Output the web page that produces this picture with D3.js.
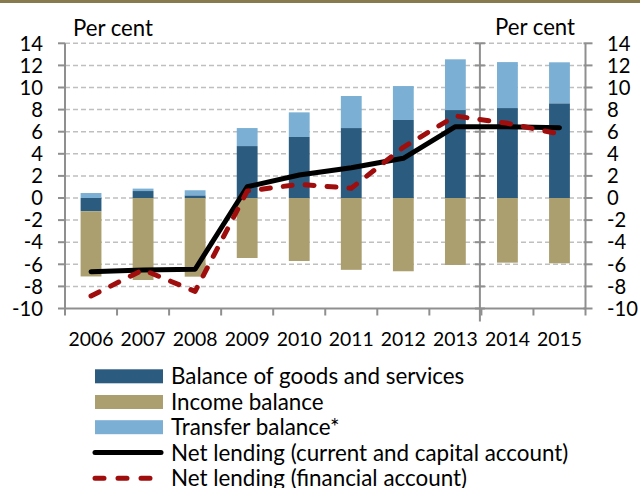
<!DOCTYPE html>
<html>
<head>
<meta charset="utf-8">
<script src="https://cdn.jsdelivr.net/npm/d3@7"></script>
<style>
  html, body { margin: 0; padding: 0; background: #fff; }
  svg { display: block; }
  text { font-family: Lato, "Open Sans", sans-serif; fill: #000; }
</style>
</head>
<body>
<svg id="chart" width="640" height="488"></svg>
<script>
// ---- Data (per cent) ----
const years = ["2006","2007","2008","2009","2010","2011","2012","2013","2014","2015"];
const goodsServices = [-1.2, 0.63, 0.24, 4.7, 5.52, 6.33, 7.06, 7.96, 8.14, 8.57];
const incomeBalance = [-5.9, -7.42, -7.12, -5.43, -5.7, -6.5, -6.63, -6.06, -5.85, -5.91];
const transferBalance = [0.45, 0.22, 0.46, 1.63, 2.23, 2.9, 3.07, 4.59, 4.16, 3.71];
const netLendingCurrent = [-6.67, -6.52, -6.45, 1.02, 2.08, 2.74, 3.59, 6.45, 6.45, 6.36];
const netLendingFinancial = [-8.87, -6.5, -8.45, 0.63, 1.24, 0.88, 4.59, 7.42, 6.76, 5.79];
const yTicks = [14, 12, 10, 8, 6, 4, 2, 0, -2, -4, -6, -8, -10];
const seriesNames = ["Balance of goods and services", "Income balance", "Transfer balance*",
  "Net lending (current and capital account)", "Net lending (financial account)"];
const unitLabel = "Per cent";

const colors = { goods: "#2b5b7f", income: "#ab9e6f", transfer: "#7bafd4", net: "#000000", fin: "#a00d0d" };

const svg = d3.select("#chart");

// top rule
svg.append("rect").attr("x", 0).attr("y", 0).attr("width", 640).attr("height", 3).attr("fill", "#877a4e");

const pLeft = 65, pRight = 585.5, pTop = 43.3, pBottom = 308.5;
const x = d3.scaleBand().domain(years).range([pLeft, pRight]).paddingInner(0.6).paddingOuter(0.3);
const y = d3.scaleLinear().domain([-10, 14]).range([pBottom, pTop]);
const step = x.step();
const boundary = i => pLeft + step * i; // category boundaries

// font fit helper
function fit(sel, target, base) {
  sel.style("font-size", base + "px");
  const w = sel.node().getComputedTextLength();
  const fs = base * target / w;
  sel.style("font-size", fs + "px");
  return fs;
}
const tmp = svg.append("text").text("2006");
const yearFs = fit(tmp, 45, 20);
tmp.text("-10");
const tickFs = fit(tmp, 31, 20);
tmp.text(unitLabel);
const unitFs = fit(tmp, 80, 20);
tmp.text(seriesNames[3]);
const legFs = fit(tmp, 397.6, 20);
tmp.remove();

// gridlines
svg.append("g").selectAll("line").data(yTicks.filter(v => v > -10)).join("line")
  .attr("x1", pLeft).attr("x2", pRight)
  .attr("y1", d => y(d)).attr("y2", d => y(d))
  .attr("stroke", "#bfbfbf").attr("stroke-width", 1.5).attr("stroke-dasharray", "5,3");

// stacked bars
const rows = years.map((yr, i) => ({ year: yr, goods: goodsServices[i], income: incomeBalance[i], transfer: transferBalance[i] }));
const stack = d3.stack().keys(["goods", "income", "transfer"]).offset(d3.stackOffsetDiverging);
const stacked = stack(rows);
svg.append("g").selectAll("g").data(stacked).join("g")
  .attr("fill", d => colors[d.key])
  .selectAll("rect").data(d => d).join("rect")
  .attr("x", d => x(d.data.year))
  .attr("width", x.bandwidth())
  .attr("y", d => y(Math.max(d[0], d[1])))
  .attr("height", d => Math.abs(y(d[0]) - y(d[1])));

// axes
const axisColor = "#8f8f8f";
const ax = svg.append("g").attr("stroke", axisColor).attr("stroke-width", 2);
ax.append("line").attr("x1", pLeft).attr("x2", pLeft).attr("y1", pTop).attr("y2", pBottom);
ax.append("line").attr("x1", pRight).attr("x2", pRight).attr("y1", pTop).attr("y2", pBottom);
ax.append("line").attr("x1", pLeft).attr("x2", pRight).attr("y1", pBottom).attr("y2", pBottom);
ax.selectAll(".lt").data(yTicks).join("line").attr("class", "lt")
  .attr("x1", pLeft - 7).attr("x2", pLeft).attr("y1", d => y(d)).attr("y2", d => y(d));
ax.selectAll(".rt").data(yTicks).join("line").attr("class", "rt")
  .attr("x1", pRight - 2).attr("x2", pRight + 7).attr("y1", d => y(d)).attr("y2", d => y(d));
ax.selectAll(".bt").data(d3.range(0, years.length + 1)).join("line").attr("class", "bt")
  .attr("x1", d => boundary(d)).attr("x2", d => boundary(d)).attr("y1", pBottom).attr("y2", pBottom + 7);
// forecast separator
const sepX = boundary(8) - 1.5;
ax.append("line").attr("x1", sepX).attr("x2", sepX).attr("y1", pTop).attr("y2", pBottom + 13);
ax.selectAll(".st").data(yTicks).join("line").attr("class", "st")
  .attr("x1", sepX - 5).attr("x2", sepX + 5).attr("y1", d => y(d)).attr("y2", d => y(d));

// lines
const cx = (d, i) => x(years[i]) + x.bandwidth() / 2;
const line = d3.line().x((d, i) => cx(d, i)).y(d => y(d));
svg.append("path").datum(netLendingCurrent).attr("d", line)
  .attr("fill", "none").attr("stroke", colors.net).attr("stroke-width", 5)
  .attr("stroke-linejoin", "round").attr("stroke-linecap", "round");
svg.append("path").datum(netLendingFinancial).attr("d", line)
  .attr("fill", "none").attr("stroke", colors.fin).attr("stroke-width", 5)
  .attr("stroke-dasharray", "9,13").attr("stroke-linecap", "round").attr("stroke-linejoin", "round");

// y tick labels
svg.append("g").selectAll("text").data(yTicks).join("text")
  .attr("x", 43).attr("y", d => y(d)).attr("dy", "0.36em").attr("text-anchor", "end")
  .style("font-size", tickFs + "px").text(d => d);
svg.append("g").selectAll("text").data(yTicks).join("text")
  .attr("x", 607).attr("y", d => y(d)).attr("dy", "0.36em").attr("text-anchor", "start")
  .style("font-size", tickFs + "px").text(d => d);

// year labels
svg.append("g").selectAll("text").data(years).join("text")
  .attr("x", d => x(d) + x.bandwidth() / 2).attr("y", 346).attr("text-anchor", "middle")
  .style("font-size", yearFs + "px").text(d => d);

// unit labels
svg.append("text").attr("x", 73).attr("y", 36).style("font-size", unitFs + "px").text(unitLabel);
svg.append("text").attr("x", 575).attr("y", 35).attr("text-anchor", "end").style("font-size", unitFs + "px").text(unitLabel);

// legend
const legY = [376.3, 402, 427.2, 452.5, 478.3];
const leg = svg.append("g");
const swatchKeys = ["goods", "income", "transfer"];
swatchKeys.forEach((k, i) => {
  leg.append("rect").attr("x", 95).attr("y", legY[i] - 7).attr("width", 68).attr("height", 14).attr("fill", colors[k]);
});
leg.append("line").attr("x1", 95).attr("x2", 161).attr("y1", legY[3]).attr("y2", legY[3])
  .attr("stroke", colors.net).attr("stroke-width", 5).attr("stroke-linecap", "round");
leg.append("line").attr("x1", 95).attr("x2", 161).attr("y1", legY[4]).attr("y2", legY[4])
  .attr("stroke", colors.fin).attr("stroke-width", 5).attr("stroke-linecap", "round").attr("stroke-dasharray", "9,14");
leg.selectAll("text").data(seriesNames).join("text")
  .attr("x", 171).attr("y", (d, i) => legY[i]).attr("dy", "0.36em")
  .style("font-size", legFs + "px").text(d => d);
</script>
</body>
</html>
